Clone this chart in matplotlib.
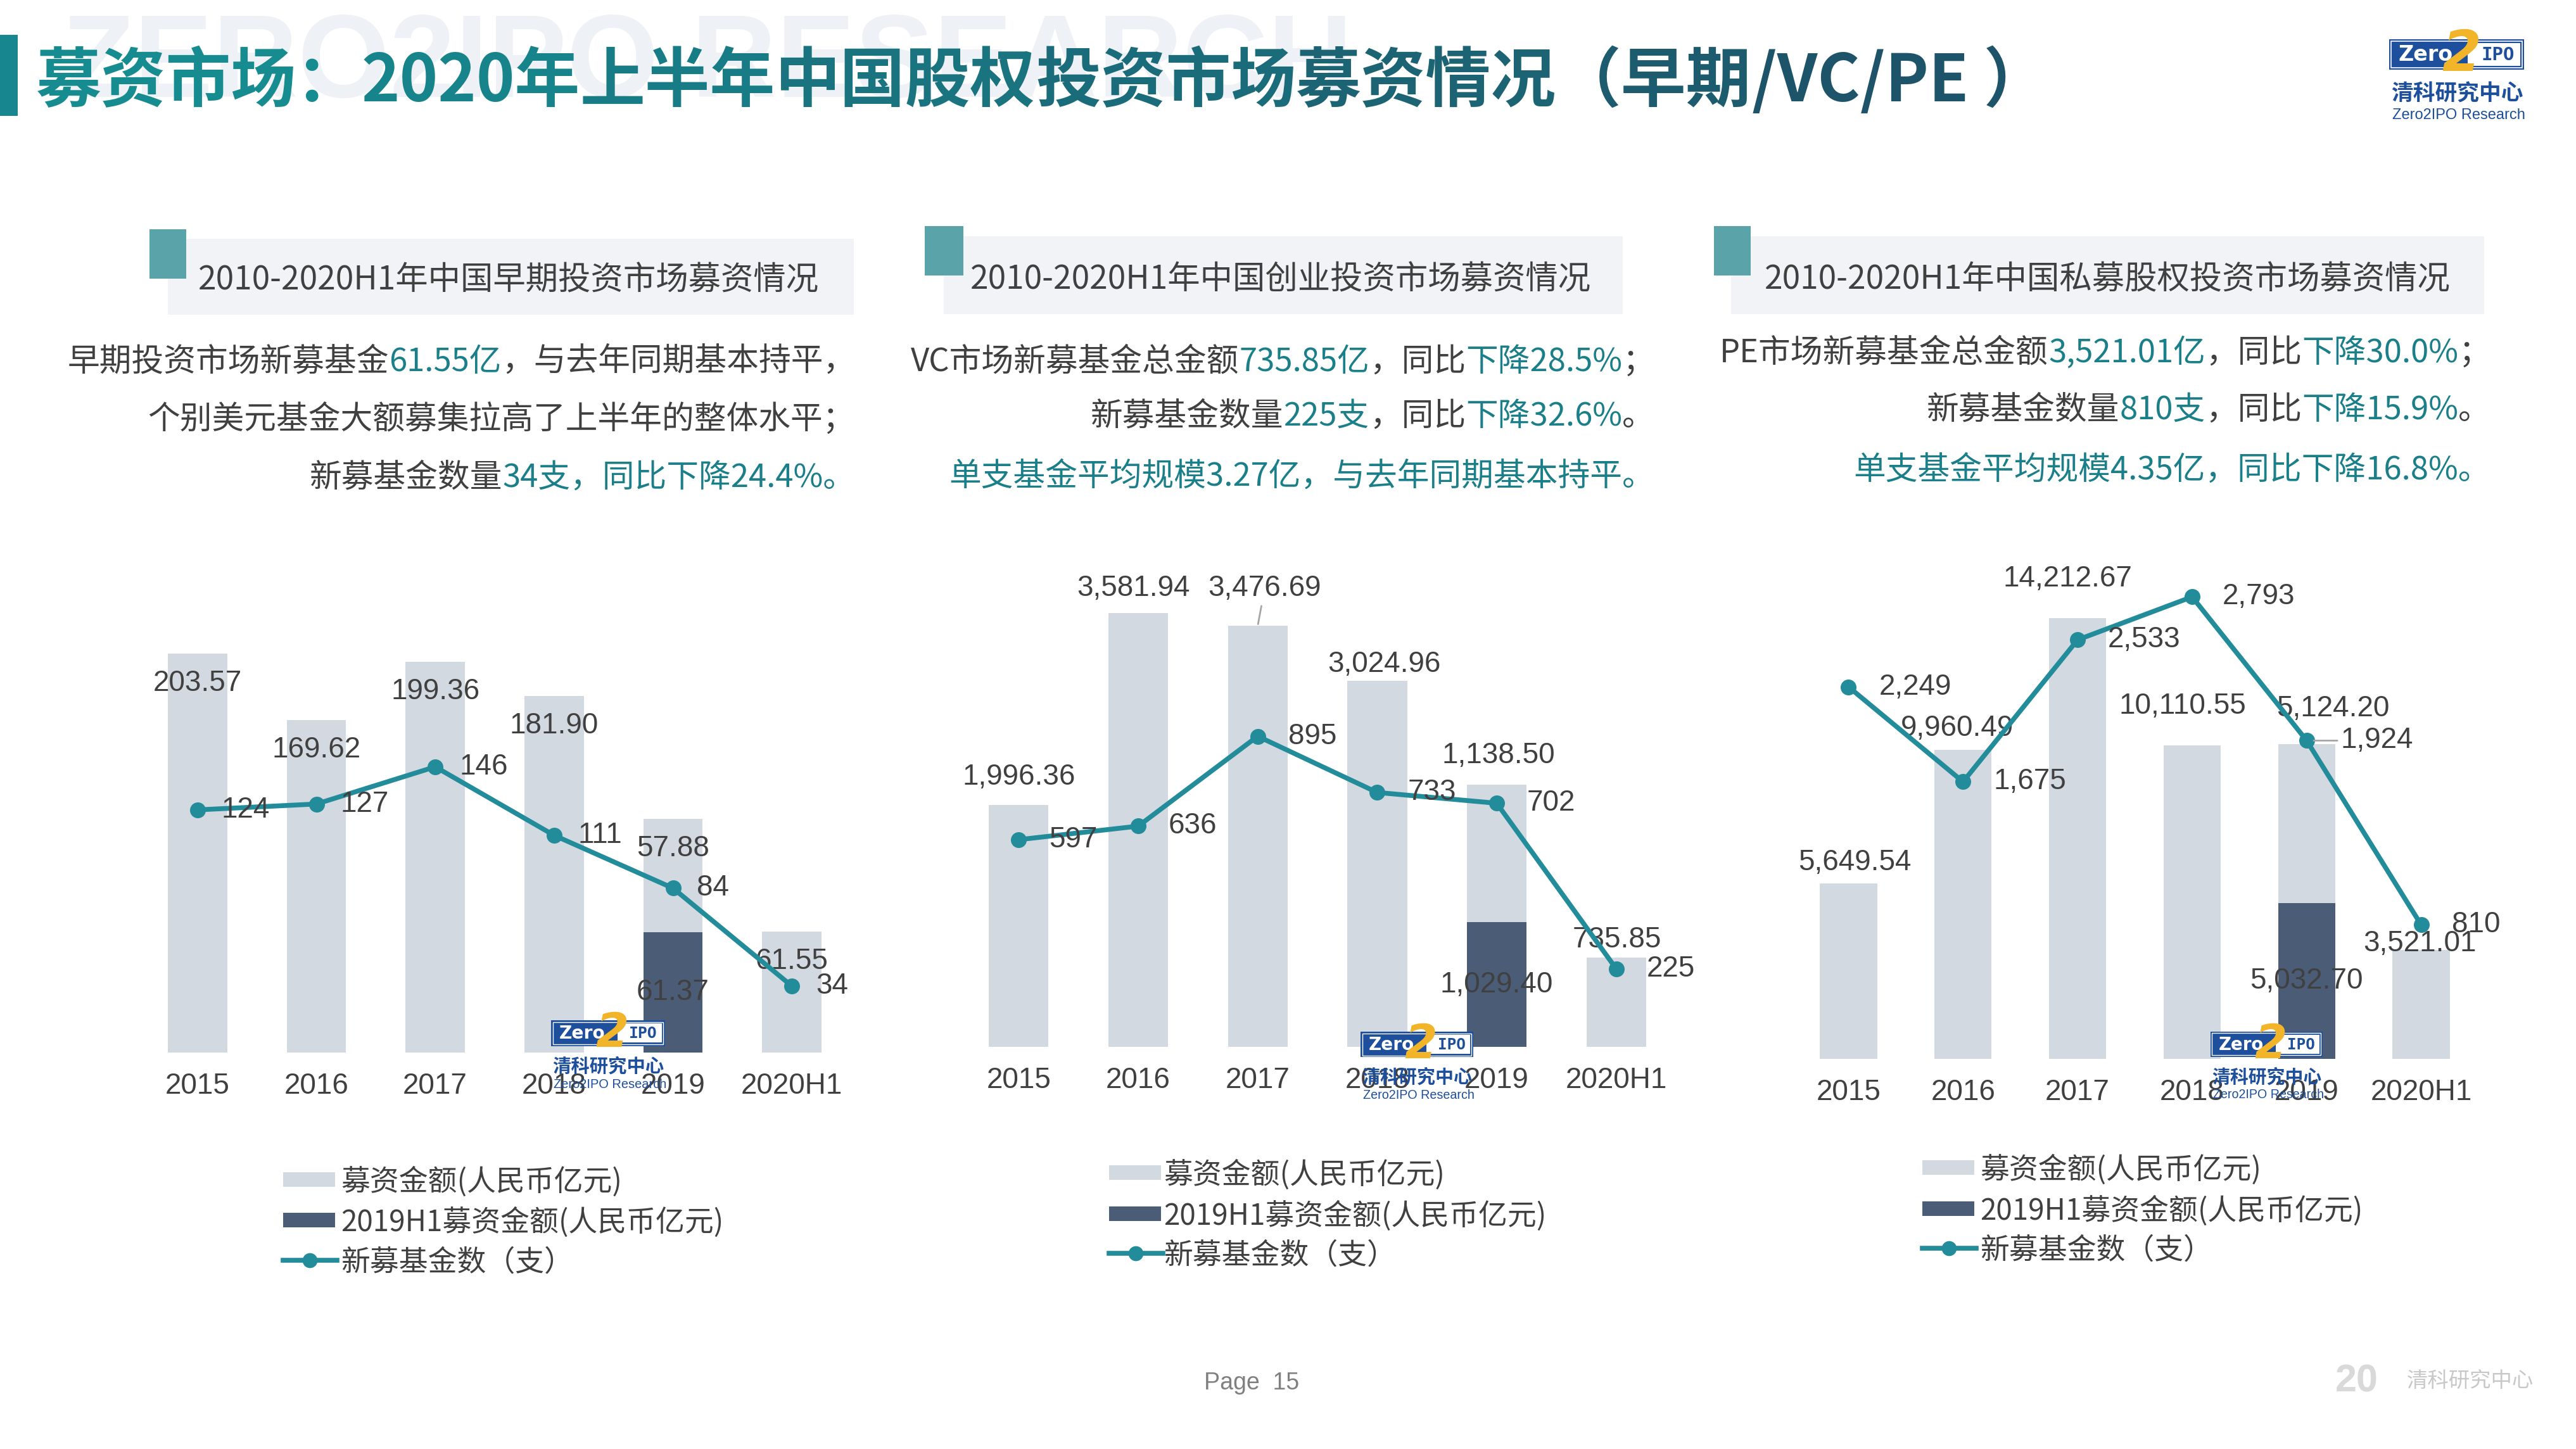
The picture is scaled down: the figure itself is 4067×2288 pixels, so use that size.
import matplotlib
matplotlib.use('Agg')
import numpy as np
import matplotlib.pyplot as plt
from matplotlib.patches import Rectangle
from matplotlib.lines import Line2D

# ---- data ----
years = ['2015', '2016', '2017', '2018', '2019', '2020H1']

early_amount = [203.57, 169.62, 199.36, 181.90, 57.88, 61.55]
early_h1_2019 = [0, 0, 0, 0, 61.37, 0]
early_funds = [124, 127, 146, 111, 84, 34]

vc_amount = [1996.36, 3581.94, 3476.69, 3024.96, 1138.50, 735.85]
vc_h1_2019 = [0, 0, 0, 0, 1029.40, 0]
vc_funds = [597, 636, 895, 733, 702, 225]

pe_amount = [5649.54, 9960.49, 14212.67, 10110.55, 5124.20, 3521.01]
pe_h1_2019 = [0, 0, 0, 0, 5032.70, 0]
pe_funds = [2249, 1675, 2533, 2793, 1924, 810]

legend_labels = ['募资金额(人民币亿元)', '2019H1募资金额(人民币亿元)', '新募基金数（支）']

# title split in pieces so it can be shaded left to right
title_parts = ['募资市场：', '2020年', '上半年', '中国股权', '投资市场', '募资情况', '（早期', '/VC/PE ）']
headers = ['2010-2020H1年中国早期投资市场募资情况',
           '2010-2020H1年中国创业投资市场募资情况',
           '2010-2020H1年中国私募股权投资市场募资情况']

# colours
G = '#404040'
T = '#1B7F89'
LIGHT_BAR = '#D3D9E1'
DARK_BAR = '#4B5C76'
LINE_C = '#238C9A'

early_text = [
    [('早期投资市场新募基金', G), ('61.55亿', T), ('，与去年同期基本持平，', G)],
    [('个别美元基金大额募集拉高了上半年的整体水平；', G)],
    [('新募基金数量', G), ('34支，同比下降24.4%。', T)],
]
vc_text = [
    [('VC市场新募基金总金额', G), ('735.85亿', T), ('，同比', G), ('下降28.5%', T), ('；', G)],
    [('新募基金数量', G), ('225支', T), ('，同比', G), ('下降32.6%', T), ('。', G)],
    [('单支基金平均规模3.27亿，与去年同期基本持平。', T)],
]
pe_text = [
    [('PE市场新募基金总金额', G), ('3,521.01亿', T), ('，同比', G), ('下降30.0%', T), ('；', G)],
    [('新募基金数量', G), ('810支', T), ('，同比', G), ('下降15.9%', T), ('。', G)],
    [('单支基金平均规模4.35亿，同比下降16.8%。', T)],
]

CJK = ['Noto Sans CJK SC', 'DejaVu Sans']
NUM = ['Liberation Sans', 'DejaVu Sans']

W, H = 4067, 2288
fig = plt.figure(figsize=(W / 100, H / 100), dpi=100)
fig.patch.set_facecolor('white')
renderer = fig.canvas.get_renderer()


def fx(x):
    return x / W


def fy(y):
    return 1 - y / H


def box(x0, y0, x1, y1, z=1, **kw):
    fig.add_artist(Rectangle((fx(x0), fy(y1)), (x1 - x0) / W, (y1 - y0) / H,
                             transform=fig.transFigure, zorder=z, **kw))


def rich_right(x_right, y_mid, parts, size):
    # segments placed right to left, each one ending where the next begins
    base = y_mid + 0.37 * size * 100 / 72
    x = x_right
    for txt, col in reversed(parts):
        t = fig.text(fx(x), fy(base), txt, fontsize=size, color=col, family=CJK,
                     ha='right', va='baseline')
        bb = t.get_window_extent(renderer=renderer)
        x = bb.x0


def draw_logo(x0, y0, s, z=6):
    blue = '#1D4F9C'

    def R(x, y, w, h, **kw):
        box(x0 + x * s, y0 + y * s, x0 + (x + w) * s, y0 + (y + h) * s, z=z, **kw)

    def Tx(x, y, txt, size, **kw):
        fig.text(fx(x0 + x * s), fy(y0 + y * s), txt, fontsize=size * s,
                 ha='center', va='center', zorder=z + 1, **kw)

    R(0, 0, 213, 48, facecolor=blue, edgecolor='none')
    R(3, 3, 207, 42, facecolor='none', edgecolor='white', lw=1.2 * s)
    R(124, 6, 83, 36, facecolor='white', edgecolor='none')
    Tx(58, 25, 'Zero', 24, color='white', weight='bold', family='DejaVu Sans')
    Tx(172, 25, 'IPO', 21, color=blue, weight='bold', family='DejaVu Sans Mono')
    Tx(114, 26, '2', 64, color='#F2B429', weight='bold', style='italic', family='DejaVu Sans')
    Tx(107, 86, '清科研究中心', 25, color=blue, weight='bold', family=CJK)
    Tx(110, 120, 'Zero2IPO Research', 17, color=blue, family=NUM)


# ---- header band ----
fig.text(fx(98), fy(153), 'ZERO2IPO RESEARCH', fontsize=134, weight='bold',
         family=NUM, color='#EEF1F5', ha='left', va='baseline', zorder=0.5)
box(0, 55, 28, 183, facecolor='#17868F', edgecolor='none')

c0 = np.array([22, 140, 145]) / 255
c1 = np.array([30, 84, 105]) / 255
xt = 57
for k, piece in enumerate(title_parts):
    col = c0 + (c1 - c0) * k / (len(title_parts) - 1)
    t = fig.text(fx(xt), fy(160), piece, fontsize=74, weight='bold', family=CJK,
                 color=col, ha='left', va='baseline', zorder=3)
    xt = t.get_window_extent(renderer=renderer).x1

draw_logo(3772, 62, 1.0)

# ---- panels ----
panels = [
    dict(amount=early_amount, h1=early_h1_2019, funds=early_funds, text=early_text,
         left=218, width=1126, top=950, base=1662, bar_max=230.0, line_max=230.4,
         sq=(236, 362, 294, 440), hbox=(265, 377, 1348, 497), htext=(313, 438),
         body_right=1350, body_y=[567, 658, 750],
         lab_off=[(0, -47)] * 6, line_dx=38, bar_leader=None, line_leader=None,
         logo=(870, 1611, 0.845),
         leg_patch=447, leg_text=538, leg_rows=[1863, 1927, 1990]),
    dict(amount=vc_amount, h1=vc_h1_2019, funds=vc_funds, text=vc_text,
         left=1514, width=1132, top=880, base=1653, bar_max=4043, line_max=1410.6,
         sq=(1460, 357, 1521, 435), hbox=(1490, 373, 2562, 496), htext=(1532, 437),
         body_right=2612, body_y=[567, 653, 748],
         lab_off=[(0, 44), (-8, 39), (11, 59), (11, 26), (3, 46), (1, 28)], line_dx=48,
         bar_leader=2, line_leader=None,
         logo=(2148, 1629, 0.835),
         leg_patch=1751, leg_text=1837, leg_rows=[1852, 1917, 1979]),
    dict(amount=pe_amount, h1=pe_h1_2019, funds=pe_funds, text=pe_text,
         left=2828, width=1085, top=880, base=1672, bar_max=16173, line_max=3032,
         sq=(2706, 357, 2764, 435), hbox=(2733, 373, 3922, 496), htext=(2786, 437),
         body_right=3932, body_y=[553, 643, 738],
         lab_off=[(10, 33), (-9, 34), (-16, 62), (-15, 62), (42, 56), (-2, 10)], line_dx=48,
         bar_leader=None, line_leader=4,
         logo=(3490, 1629, 0.83),
         leg_patch=3035, leg_text=3126, leg_rows=[1844, 1909, 1971]),
]

x = np.arange(len(years))
for p, head in zip(panels, headers):
    # header box and text
    box(*p['hbox'][:2], *p['hbox'][2:], facecolor='#F1F3F6', edgecolor='none')
    box(*p['sq'][:2], *p['sq'][2:], z=2, facecolor='#5AA4A9', edgecolor='none')
    fig.text(fx(p['htext'][0]), fy(p['htext'][1] + 0.37 * 37 * 100 / 72), head,
             fontsize=37, color=G, family=CJK, ha='left', va='baseline')
    for line, ym in zip(p['text'], p['body_y']):
        rich_right(p['body_right'], ym, line, 36.5)

    # chart
    ax = fig.add_axes([fx(p['left']), fy(p['base']), p['width'] / W, (p['base'] - p['top']) / H])
    ax.bar(x, p['h1'], width=0.5, color=DARK_BAR, zorder=2)
    ax.bar(x, p['amount'], width=0.5, bottom=p['h1'], color=LIGHT_BAR, zorder=2)
    ax.set_xlim(-0.5, len(years) - 0.5)
    ax.set_ylim(0, p['bar_max'])
    ax.set_yticks([])
    ax.set_xticks(x, years)
    ax.tick_params(axis='x', length=0, pad=22, labelsize=33, labelcolor=G)
    for lbl in ax.get_xticklabels():
        lbl.set_fontfamily(NUM)
    for sp in ax.spines.values():
        sp.set_visible(False)
    ax.patch.set_alpha(0)

    for i in x:
        top = p['amount'][i] + p['h1'][i]
        dx, dy = p['lab_off'][i]
        kw = {}
        if p['bar_leader'] == i:
            kw['arrowprops'] = dict(arrowstyle='-', color='#A6A6A6', lw=2, shrinkA=2, shrinkB=2)
        ax.annotate(f"{p['amount'][i]:,.2f}", (i, top), xytext=(dx, dy),
                    textcoords='offset pixels', ha='center', va='center',
                    fontsize=33, color=G, family=NUM, zorder=4, **kw)
        if p['h1'][i]:
            ax.annotate(f"{p['h1'][i]:,.2f}", (i, p['h1'][i] / 2), ha='center', va='center',
                        fontsize=33, color=G, family=NUM, zorder=4)

    ax2 = ax.twinx()
    ax2.plot(x, p['funds'], color=LINE_C, lw=5.5, marker='o', markersize=17, zorder=3)
    ax2.set_ylim(0, p['line_max'])
    ax2.axis('off')
    for i in x:
        kw = {}
        dx = p['line_dx']
        if p['line_leader'] == i:
            kw['arrowprops'] = dict(arrowstyle='-', color='#A6A6A6', lw=2, shrinkA=2, shrinkB=8)
            dx += 6
        ax2.annotate(f"{p['funds'][i]:,}", (i, p['funds'][i]), xytext=(dx, 0),
                     textcoords='offset pixels', ha='left', va='center',
                     fontsize=33, color=G, family=NUM, zorder=4, **kw)

    # small watermark logo
    draw_logo(*p['logo'])

    # legend
    px0 = p['leg_patch']
    r = p['leg_rows']
    box(px0, r[0] - 12, px0 + 82, r[0] + 11, facecolor=LIGHT_BAR, edgecolor='none')
    box(px0, r[1] - 12, px0 + 82, r[1] + 11, facecolor=DARK_BAR, edgecolor='none')
    fig.add_artist(Line2D([fx(px0), fx(px0 + 85)], [fy(r[2]), fy(r[2])], transform=fig.transFigure,
                          color=LINE_C, lw=5.5))
    fig.add_artist(Line2D([fx(px0 + 42)], [fy(r[2])], transform=fig.transFigure,
                          color=LINE_C, marker='o', markersize=16, lw=0))
    for lab, yy in zip(legend_labels, r):
        fig.text(fx(p['leg_text']), fy(yy + 0.37 * 33 * 100 / 72), lab, fontsize=33,
                 color=G, family=CJK, ha='left', va='baseline')

# ---- footer ----
fig.text(fx(1901), fy(2184), 'Page  15', fontsize=27, color='#808080', family=NUM,
         ha='left', va='center')
fig.text(fx(3687), fy(2182), '20', fontsize=44, weight='bold', color='#D9D9D9', family=NUM,
         ha='left', va='center')
fig.text(fx(3800), fy(2180), '清科研究中心', fontsize=24, color='#C8C8C8', family=CJK,
         ha='left', va='center')

fig.savefig('out.png', dpi=100, facecolor='white')
